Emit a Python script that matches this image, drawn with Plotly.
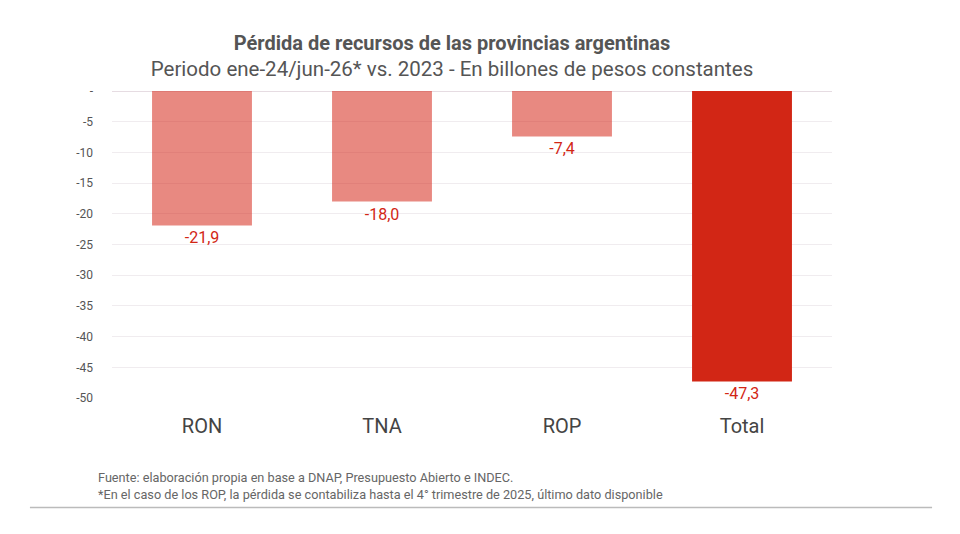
import plotly.graph_objects as go

# data
categorias = ["RON", "TNA", "ROP", "Total"]
perdida = [-21.9, -18.0, -7.4, -47.3]
colores = ["rgba(214,40,26,0.55)", "rgba(214,40,26,0.55)", "rgba(214,40,26,0.55)", "#D22615"]
etiquetas = ["-21,9", "-18,0", "-7,4", "-47,3"]

tick_vals = [0, -5, -10, -15, -20, -25, -30, -35, -40, -45, -50]
tick_text = ["-", "-5", "-10", "-15", "-20", "-25", "-30", "-35", "-40", "-45", "-50"]

fig = go.Figure(
    go.Bar(
        x=categorias,
        y=perdida,
        marker=dict(color=colores, line=dict(width=0)),
        width=0.555,
        text=etiquetas,
        textposition="outside",
        textfont=dict(color="#D22615", size=16, family="Roboto"),
        cliponaxis=False,
        hoverinfo="skip",
    )
)

fig.update_layout(
    width=960,
    height=534,
    paper_bgcolor="white",
    plot_bgcolor="white",
    # page body adds 8px, margins compensate
    margin=dict(l=104, r=136, t=83, b=144),
    font=dict(family="Roboto", color="#555555"),
    showlegend=False,
    title=dict(
        text="<b>Pérdida de recursos de las provincias argentinas</b><br>"
             "<span style='font-size:20.5px'>Periodo ene-24/jun-26* vs. 2023 - En billones de pesos constantes</span>",
        x=0.4625, xanchor="center", y=0.922, yanchor="top",
        font=dict(size=20, color="#555555", family="Roboto"),
    ),
    xaxis=dict(
        tickfont=dict(size=20, color="#444444"),
        showline=False,
        ticks="",
        ticklabelstandoff=14,
    ),
    yaxis=dict(
        range=[-50, 0],
        tickvals=tick_vals,
        ticktext=tick_text,
        tickfont=dict(size=12, color="#555555"),
        gridcolor="#F0ECEF",
        zeroline=True,
        zerolinecolor="#E6DCE2",
        zerolinewidth=1,
        ticklabelstandoff=18,
    ),
)

fig.add_annotation(
    text="Fuente: elaboración propia en base a DNAP, Presupuesto Abierto e INDEC.<br>"
         "*En el caso de los ROP, la pérdida se contabiliza hasta el 4° trimestre de 2025, último dato disponible",
    xref="paper", yref="paper", x=-0.022, y=-0.229,
    xanchor="left", yanchor="top", align="left", showarrow=False,
    font=dict(size=12.7, color="#666666", family="Roboto"),
)

fig.add_shape(
    type="line", xref="paper", yref="paper",
    x0=-0.114, x1=1.139, y0=-0.357, y1=-0.357,
    line=dict(color="#BBBBBB", width=1.5),
)

fig.write_html("out.html")
